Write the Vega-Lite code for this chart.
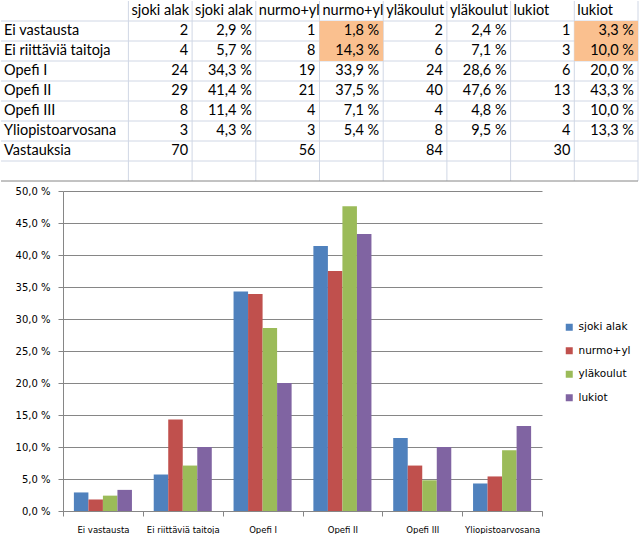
{
  "$schema": "https://vega.github.io/schema/vega-lite/v6.json",
  "padding": 0,
  "width": 479,
  "height": 320,
  "config": {"view": {"stroke": null}, "font": "DejaVu Sans"},
  "datasets": {
    "cells": [
      {"r": "r0", "c": "c1", "t": "sjoki alak", "kind": "head"},
      {"r": "r0", "c": "c2", "t": "sjoki alak", "kind": "head"},
      {"r": "r0", "c": "c3", "t": "nurmo+yl", "kind": "head"},
      {"r": "r0", "c": "c4", "t": "nurmo+yl", "kind": "head"},
      {"r": "r0", "c": "c5", "t": "yläkoulut", "kind": "head"},
      {"r": "r0", "c": "c6", "t": "yläkoulut", "kind": "head"},
      {"r": "r0", "c": "c7", "t": "lukiot", "kind": "head"},
      {"r": "r0", "c": "c8", "t": "lukiot", "kind": "head"},
      {"r": "r1", "c": "L", "t": "Ei vastausta", "kind": "label"},
      {"r": "r1", "c": "c1", "t": "2", "kind": "num"},
      {"r": "r1", "c": "c2", "t": "2,9 %", "kind": "num"},
      {"r": "r1", "c": "c3", "t": "1", "kind": "num"},
      {"r": "r1", "c": "c4", "t": "1,8 %", "kind": "num"},
      {"r": "r1", "c": "c5", "t": "2", "kind": "num"},
      {"r": "r1", "c": "c6", "t": "2,4 %", "kind": "num"},
      {"r": "r1", "c": "c7", "t": "1", "kind": "num"},
      {"r": "r1", "c": "c8", "t": "3,3 %", "kind": "num"},
      {"r": "r2", "c": "L", "t": "Ei riittäviä taitoja", "kind": "label"},
      {"r": "r2", "c": "c1", "t": "4", "kind": "num"},
      {"r": "r2", "c": "c2", "t": "5,7 %", "kind": "num"},
      {"r": "r2", "c": "c3", "t": "8", "kind": "num"},
      {"r": "r2", "c": "c4", "t": "14,3 %", "kind": "num"},
      {"r": "r2", "c": "c5", "t": "6", "kind": "num"},
      {"r": "r2", "c": "c6", "t": "7,1 %", "kind": "num"},
      {"r": "r2", "c": "c7", "t": "3", "kind": "num"},
      {"r": "r2", "c": "c8", "t": "10,0 %", "kind": "num"},
      {"r": "r3", "c": "L", "t": "Opefi I", "kind": "label"},
      {"r": "r3", "c": "c1", "t": "24", "kind": "num"},
      {"r": "r3", "c": "c2", "t": "34,3 %", "kind": "num"},
      {"r": "r3", "c": "c3", "t": "19", "kind": "num"},
      {"r": "r3", "c": "c4", "t": "33,9 %", "kind": "num"},
      {"r": "r3", "c": "c5", "t": "24", "kind": "num"},
      {"r": "r3", "c": "c6", "t": "28,6 %", "kind": "num"},
      {"r": "r3", "c": "c7", "t": "6", "kind": "num"},
      {"r": "r3", "c": "c8", "t": "20,0 %", "kind": "num"},
      {"r": "r4", "c": "L", "t": "Opefi II", "kind": "label"},
      {"r": "r4", "c": "c1", "t": "29", "kind": "num"},
      {"r": "r4", "c": "c2", "t": "41,4 %", "kind": "num"},
      {"r": "r4", "c": "c3", "t": "21", "kind": "num"},
      {"r": "r4", "c": "c4", "t": "37,5 %", "kind": "num"},
      {"r": "r4", "c": "c5", "t": "40", "kind": "num"},
      {"r": "r4", "c": "c6", "t": "47,6 %", "kind": "num"},
      {"r": "r4", "c": "c7", "t": "13", "kind": "num"},
      {"r": "r4", "c": "c8", "t": "43,3 %", "kind": "num"},
      {"r": "r5", "c": "L", "t": "Opefi III", "kind": "label"},
      {"r": "r5", "c": "c1", "t": "8", "kind": "num"},
      {"r": "r5", "c": "c2", "t": "11,4 %", "kind": "num"},
      {"r": "r5", "c": "c3", "t": "4", "kind": "num"},
      {"r": "r5", "c": "c4", "t": "7,1 %", "kind": "num"},
      {"r": "r5", "c": "c5", "t": "4", "kind": "num"},
      {"r": "r5", "c": "c6", "t": "4,8 %", "kind": "num"},
      {"r": "r5", "c": "c7", "t": "3", "kind": "num"},
      {"r": "r5", "c": "c8", "t": "10,0 %", "kind": "num"},
      {"r": "r6", "c": "L", "t": "Yliopistoarvosana", "kind": "label"},
      {"r": "r6", "c": "c1", "t": "3", "kind": "num"},
      {"r": "r6", "c": "c2", "t": "4,3 %", "kind": "num"},
      {"r": "r6", "c": "c3", "t": "3", "kind": "num"},
      {"r": "r6", "c": "c4", "t": "5,4 %", "kind": "num"},
      {"r": "r6", "c": "c5", "t": "8", "kind": "num"},
      {"r": "r6", "c": "c6", "t": "9,5 %", "kind": "num"},
      {"r": "r6", "c": "c7", "t": "4", "kind": "num"},
      {"r": "r6", "c": "c8", "t": "13,3 %", "kind": "num"},
      {"r": "r7", "c": "L", "t": "Vastauksia", "kind": "label"},
      {"r": "r7", "c": "c1", "t": "70", "kind": "num"},
      {"r": "r7", "c": "c3", "t": "56", "kind": "num"},
      {"r": "r7", "c": "c5", "t": "84", "kind": "num"},
      {"r": "r7", "c": "c7", "t": "30", "kind": "num"}
    ],
    "vlines": [{"c": "c1"}, {"c": "c2"}, {"c": "c3"}, {"c": "c4"}, {"c": "c5"}, {"c": "c6"}, {"c": "c7"}, {"c": "c8"}],
    "hlines": [{"r": "r0"}, {"r": "r1"}, {"r": "r2"}, {"r": "r3"}, {"r": "r4"}, {"r": "r5"}, {"r": "r6"}, {"r": "r7"}],
    "fills": [{"r": "r1", "c": "c4"}, {"r": "r2", "c": "c4"}, {"r": "r1", "c": "c8"}, {"r": "r2", "c": "c8"}],
    "bars": [
      {"category": "Ei vastausta", "series": "sjoki alak", "value": 0.029},
      {"category": "Ei vastausta", "series": "nurmo+yl", "value": 0.018},
      {"category": "Ei vastausta", "series": "yläkoulut", "value": 0.024},
      {"category": "Ei vastausta", "series": "lukiot", "value": 0.033},
      {"category": "Ei riittäviä taitoja", "series": "sjoki alak", "value": 0.057},
      {"category": "Ei riittäviä taitoja", "series": "nurmo+yl", "value": 0.143},
      {"category": "Ei riittäviä taitoja", "series": "yläkoulut", "value": 0.071},
      {"category": "Ei riittäviä taitoja", "series": "lukiot", "value": 0.100},
      {"category": "Opefi I", "series": "sjoki alak", "value": 0.343},
      {"category": "Opefi I", "series": "nurmo+yl", "value": 0.339},
      {"category": "Opefi I", "series": "yläkoulut", "value": 0.286},
      {"category": "Opefi I", "series": "lukiot", "value": 0.200},
      {"category": "Opefi II", "series": "sjoki alak", "value": 0.414},
      {"category": "Opefi II", "series": "nurmo+yl", "value": 0.375},
      {"category": "Opefi II", "series": "yläkoulut", "value": 0.476},
      {"category": "Opefi II", "series": "lukiot", "value": 0.433},
      {"category": "Opefi III", "series": "sjoki alak", "value": 0.114},
      {"category": "Opefi III", "series": "nurmo+yl", "value": 0.071},
      {"category": "Opefi III", "series": "yläkoulut", "value": 0.048},
      {"category": "Opefi III", "series": "lukiot", "value": 0.100},
      {"category": "Yliopistoarvosana", "series": "sjoki alak", "value": 0.043},
      {"category": "Yliopistoarvosana", "series": "nurmo+yl", "value": 0.054},
      {"category": "Yliopistoarvosana", "series": "yläkoulut", "value": 0.095},
      {"category": "Yliopistoarvosana", "series": "lukiot", "value": 0.133}
    ]
  },
  "layer": [
    {
      "data": {"name": "bars"},
      "mark": {"type": "bar"},
      "encoding": {
        "x": {
          "field": "category", "type": "nominal",
          "sort": ["Ei vastausta", "Ei riittäviä taitoja", "Opefi I", "Opefi II", "Opefi III", "Yliopistoarvosana"],
          "scale": {"paddingInner": 0, "paddingOuter": 0},
          "axis": {"orient": "bottom", "title": null, "labelAngle": 0, "tickBand": "extent", "domainColor": "#868686", "tickColor": "#868686", "tickSize": 5, "labelFont": "DejaVu Sans", "labelFontSize": 8.5, "labelColor": "#000000", "labelPadding": 9, "grid": false}
        },
        "xOffset": {
          "field": "series", "type": "nominal",
          "sort": ["sjoki alak", "nurmo+yl", "yläkoulut", "lukiot"],
          "scale": {"paddingInner": 0, "paddingOuter": 0.75}
        },
        "y": {
          "field": "value", "type": "quantitative",
          "scale": {"domain": [0, 0.5]},
          "axis": {"orient": "left", "title": null, "values": [0, 0.05, 0.1, 0.15, 0.2, 0.25, 0.3, 0.35, 0.4, 0.45, 0.5], "labelExpr": "replace(replace(format(datum.value, '.1%'), '.', ','), '%', ' %')", "grid": true, "gridColor": "#868686", "domainColor": "#868686", "tickColor": "#868686", "tickSize": 5, "labelFont": "DejaVu Sans", "labelFontSize": 10, "labelColor": "#000000", "labelPadding": 8}
        },
        "color": {
          "field": "series", "type": "nominal",
          "scale": {"domain": ["sjoki alak", "nurmo+yl", "yläkoulut", "lukiot"], "range": ["#4F81BD", "#C0504D", "#9BBB59", "#8064A2"]},
          "legend": {"title": null, "orient": "none", "legendX": 501, "legendY": 131, "symbolType": "square", "symbolSize": 49, "symbolStrokeWidth": 0, "labelFont": "DejaVu Sans", "labelFontSize": 10.5, "labelColor": "#000000", "rowPadding": 12.5, "labelOffset": 4}
        }
      }
    },
    {
      "layer": [
        {
          "data": {"name": "vlines"},
          "mark": {"type": "rule", "color": "#D0D7E5", "strokeWidth": 1},
          "encoding": {
            "x": {"field": "c", "type": "nominal", "bandPosition": 0, "scale": {"type": "band", "domain": ["L", "L2", "c1", "c2", "c3", "c4", "c5", "c6", "c7", "c8"], "range": [-62, 575], "paddingInner": 0, "paddingOuter": 0}, "axis": null},
            "y": {"datum": "r0", "type": "nominal", "bandPosition": 0, "scale": {"type": "band", "domain": ["r0", "r1", "r2", "r3", "r4", "r5", "r6", "r7", "r8"], "range": [-190, -10], "paddingInner": 0, "paddingOuter": 0}, "axis": null},
            "y2": {"datum": "r8", "bandPosition": 1}
          }
        },
        {
          "data": {"values": [{"c": "c8"}]},
          "mark": {"type": "rule", "color": "#D0D7E5", "strokeWidth": 1},
          "encoding": {
            "x": {"field": "c", "type": "nominal", "bandPosition": 1, "axis": null},
            "y": {"datum": "r0", "type": "nominal", "bandPosition": 0, "axis": null},
            "y2": {"datum": "r8", "bandPosition": 1}
          }
        },
        {
          "data": {"name": "hlines"},
          "mark": {"type": "rule", "color": "#D0D7E5", "strokeWidth": 1},
          "encoding": {
            "y": {"field": "r", "type": "nominal", "bandPosition": 1, "axis": null},
            "x": {"datum": "L", "type": "nominal", "bandPosition": 0, "axis": null},
            "x2": {"datum": "c8", "bandPosition": 1}
          }
        },
        {
          "data": {"name": "fills"},
          "mark": {"type": "rect", "color": "#FAC08F"},
          "encoding": {
            "x": {"field": "c", "type": "nominal", "axis": null},
            "y": {"field": "r", "type": "nominal", "axis": null}
          }
        },
        {
          "data": {"values": [{"r": "r8"}]},
          "mark": {"type": "rule", "color": "#868686", "strokeWidth": 1},
          "encoding": {
            "y": {"field": "r", "type": "nominal", "bandPosition": 1, "axis": null},
            "x": {"datum": "L", "type": "nominal", "bandPosition": 0, "axis": null},
            "x2": {"datum": "c8", "bandPosition": 1}
          }
        },
        {
          "data": {"name": "cells"},
          "transform": [{"filter": "datum.kind != 'num'"}],
          "mark": {"type": "text", "align": "left", "baseline": "middle", "dx": 3, "font": "Lato", "fontSize": 14.5, "color": "#000000"},
          "encoding": {
            "x": {"field": "c", "type": "nominal", "bandPosition": 0, "axis": null},
            "y": {"field": "r", "type": "nominal", "axis": null},
            "text": {"field": "t"}
          }
        },
        {
          "data": {"name": "cells"},
          "transform": [{"filter": "datum.kind == 'num'"}],
          "mark": {"type": "text", "align": "right", "baseline": "middle", "dx": -4, "font": "Lato", "fontSize": 14.5, "color": "#000000"},
          "encoding": {
            "x": {"field": "c", "type": "nominal", "bandPosition": 1, "axis": null},
            "y": {"field": "r", "type": "nominal", "axis": null},
            "text": {"field": "t"}
          }
        }
      ]
    }
  ],
  "resolve": {"scale": {"x": "independent", "y": "independent"}, "axis": {"x": "independent", "y": "independent"}}
}
